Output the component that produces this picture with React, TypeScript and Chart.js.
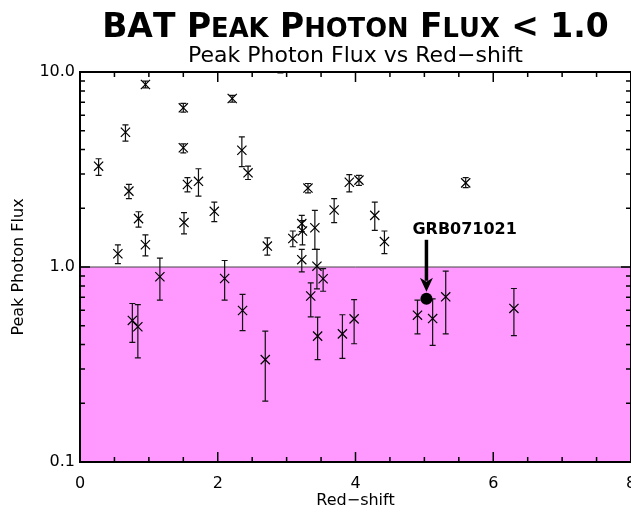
import React, { useEffect, useRef } from 'react';
import { Chart, registerables } from 'chart.js';

Chart.register(...registerables);

const FONT = '"DejaVu Sans", sans-serif';

const titleText = 'BAT Peak Photon Flux < 1.0';
const subtitleText = 'Peak Photon Flux vs Red\u2212shift';
const xAxisTitle = 'Red\u2212shift';
const yAxisTitle = 'Peak Photon Flux';

// Burst sample: red-shift, peak photon flux and its error range
const redshift = [0.27, 0.95, 0.66, 0.71, 0.85, 0.55, 0.95, 1.50, 1.50, 1.56, 1.72, 1.51, 1.95, 2.21, 2.35, 2.44, 2.72, 3.31, 3.91, 4.05, 3.69, 4.28, 4.42, 3.09, 3.22, 3.23, 3.41, 3.22, 3.44, 3.53, 3.35, 3.45, 3.81, 3.98, 4.90, 5.12, 5.31, 6.30, 5.60, 1.16, 2.10, 0.76, 0.84, 2.36, 2.69, 2.91];
const peakFlux = [3.29, 8.63, 4.91, 2.45, 1.77, 1.17, 1.30, 6.55, 4.09, 2.65, 2.75, 1.69, 1.93, 7.31, 3.97, 3.04, 1.28, 2.54, 2.72, 2.79, 1.96, 1.84, 1.35, 1.40, 1.67, 1.53, 1.59, 1.09, 1.01, 0.87, 0.71, 0.442, 0.454, 0.542, 0.566, 0.544, 0.703, 0.613, 2.70, 0.891, 0.873, 0.532, 0.494, 0.598, 0.335, 11.0];
const fluxLow = [2.95, 8.30, 4.42, 2.24, 1.60, 1.04, 1.14, 6.22, 3.85, 2.43, 2.31, 1.48, 1.71, 7.00, 3.27, 2.81, 1.15, 2.40, 2.43, 2.62, 1.69, 1.54, 1.17, 1.27, 1.52, 1.30, 1.23, 0.945, 0.773, 0.751, 0.555, 0.335, 0.340, 0.404, 0.454, 0.396, 0.454, 0.445, 2.55, 0.676, 0.676, 0.411, 0.342, 0.472, 0.205, 9.9];
const fluxHigh = [3.59, 8.97, 5.36, 2.65, 1.92, 1.30, 1.46, 6.90, 4.28, 2.87, 3.19, 1.90, 2.15, 7.58, 4.65, 3.29, 1.41, 2.68, 2.98, 2.95, 2.24, 2.15, 1.53, 1.53, 1.84, 1.73, 1.95, 1.23, 1.23, 0.98, 0.83, 0.553, 0.569, 0.681, 0.676, 0.687, 0.952, 0.776, 2.87, 1.11, 1.08, 0.650, 0.642, 0.723, 0.469, 12.5];

// Highlighted burst
const grbName = 'GRB071021';
const grbRedshift = [5.03];
const grbFlux = [0.687];

const thresholdFlux = 1.0;

// Axis ticks
const xMajorTicks = [0, 2, 4, 6, 8];
const xTickLabels = ['0', '2', '4', '6', '8'];
const xMinorTicks = [0.5, 1, 1.5, 2.5, 3, 3.5, 4.5, 5, 5.5, 6.5, 7, 7.5];
const yMajorTicks = [0.1, 1, 10];
const yTickLabels = ['0.1', '1.0', '10.0'];
const yMinorTicks = [0.2, 0.3, 0.4, 0.5, 0.6, 0.7, 0.8, 0.9, 2, 3, 4, 5, 6, 7, 8, 9];

function drawSmallCaps(ctx: CanvasRenderingContext2D, text: string, cx: number, baseline: number, size: number) {
  const parts: { ch: string; size: number; w: number }[] = [];
  for (const ch of text) {
    const lower = ch !== ch.toUpperCase();
    const s = lower ? size * 0.78 : size;
    ctx.font = `bold ${s}px ${FONT}`;
    const c = lower ? ch.toUpperCase() : ch;
    parts.push({ ch: c, size: s, w: ctx.measureText(c).width });
  }
  const total = parts.reduce((a, p) => a + p.w, 0);
  let x = cx - total / 2;
  ctx.textAlign = 'left';
  ctx.textBaseline = 'alphabetic';
  for (const p of parts) {
    ctx.font = `bold ${p.size}px ${FONT}`;
    ctx.fillText(p.ch, x, baseline);
    x += p.w;
  }
}

const chartPlugin = {
  id: 'idlStyle',
  beforeDatasetsDraw(chart: any) {
    const { ctx, chartArea: a, scales } = chart;
    const xs = scales.x;
    const ys = scales.y;
    const yT = ys.getPixelForValue(thresholdFlux);
    ctx.save();
    ctx.fillStyle = '#ff99ff';
    ctx.fillRect(a.left, yT, a.right - a.left, a.bottom - yT);
    ctx.strokeStyle = '#444';
    ctx.lineWidth = 1;
    ctx.beginPath();
    ctx.moveTo(a.left, yT);
    ctx.lineTo(a.right, yT);
    ctx.stroke();

    ctx.beginPath();
    ctx.rect(a.left, a.top, a.right - a.left, a.bottom - a.top);
    ctx.clip();
    ctx.strokeStyle = '#111';
    ctx.lineWidth = 1.2;
    redshift.forEach((z, i) => {
      const px = xs.getPixelForValue(z);
      const lo = ys.getPixelForValue(fluxLow[i]);
      const hi = ys.getPixelForValue(fluxHigh[i]);
      ctx.beginPath();
      ctx.moveTo(px, lo);
      ctx.lineTo(px, hi);
      ctx.moveTo(px - 3, lo);
      ctx.lineTo(px + 3, lo);
      ctx.moveTo(px - 3, hi);
      ctx.lineTo(px + 3, hi);
      ctx.stroke();
    });
    ctx.restore();
  },
  afterDraw(chart: any) {
    const { ctx, chartArea: a, scales } = chart;
    const xs = scales.x;
    const ys = scales.y;
    ctx.save();
    // frame
    ctx.strokeStyle = '#000';
    ctx.lineWidth = 2;
    ctx.strokeRect(a.left, a.top, a.right - a.left, a.bottom - a.top);
    // inward ticks
    ctx.lineWidth = 1.5;
    ctx.beginPath();
    xs.ticks.forEach((t: any) => {
      const px = xs.getPixelForValue(t.value);
      const len = xMajorTicks.includes(t.value) ? 10 : 5;
      ctx.moveTo(px, a.bottom);
      ctx.lineTo(px, a.bottom - len);
      ctx.moveTo(px, a.top);
      ctx.lineTo(px, a.top + len);
    });
    ys.ticks.forEach((t: any) => {
      const py = ys.getPixelForValue(t.value);
      const len = yMajorTicks.includes(t.value) ? 10 : 5;
      ctx.moveTo(a.left, py);
      ctx.lineTo(a.left + len, py);
      ctx.moveTo(a.right, py);
      ctx.lineTo(a.right - len, py);
    });
    ctx.stroke();

    // titles
    const cx = (a.left + a.right) / 2;
    ctx.fillStyle = '#000';
    drawSmallCaps(ctx, titleText, cx, 37, 33);
    ctx.font = `22px ${FONT}`;
    ctx.textAlign = 'center';
    ctx.textBaseline = 'alphabetic';
    ctx.fillText(subtitleText, cx, 62);

    // annotation
    const gx = xs.getPixelForValue(grbRedshift[0]);
    const gy = ys.getPixelForValue(grbFlux[0]);
    ctx.font = `bold 16px ${FONT}`;
    ctx.textAlign = 'left';
    ctx.fillText(grbName, gx - 14, gy - 65);
    ctx.lineWidth = 3.5;
    ctx.beginPath();
    ctx.moveTo(gx, gy - 59);
    ctx.lineTo(gx, gy - 18);
    ctx.stroke();
    ctx.beginPath();
    ctx.moveTo(gx, gy - 7);
    ctx.lineTo(gx - 6.5, gy - 21);
    ctx.lineTo(gx, gy - 17);
    ctx.lineTo(gx + 6.5, gy - 21);
    ctx.closePath();
    ctx.fill();
    ctx.restore();
  },
};

export default function App() {
  const ref = useRef<HTMLCanvasElement | null>(null);
  useEffect(() => {
    if (!ref.current) return;
    const chart = new Chart(ref.current, {
      type: 'scatter',
      data: {
        datasets: [
          {
            label: 'Bursts',
            data: redshift.map((z, i) => ({ x: z, y: peakFlux[i] })),
            pointStyle: 'crossRot',
            pointRadius: 6.5,
            borderColor: '#000',
            backgroundColor: '#000',
            borderWidth: 1.2,
          },
          {
            label: grbName,
            data: grbRedshift.map((z, i) => ({ x: z, y: grbFlux[i] })),
            pointStyle: 'circle',
            pointRadius: 6,
            borderColor: '#000',
            backgroundColor: '#000',
            borderWidth: 0,
          },
        ],
      },
      options: {
        responsive: false,
        devicePixelRatio: 1,
        animation: false,
        layout: { padding: { top: 72, right: 29, left: 0, bottom: 0 } },
        plugins: { legend: { display: false }, tooltip: { enabled: false } },
        scales: {
          x: {
            type: 'linear',
            min: 0,
            max: 8,
            grid: { display: false, drawTicks: false },
            border: { display: false },
            afterBuildTicks: (s: any) => {
              s.ticks = [...xMajorTicks, ...xMinorTicks].sort((p, q) => p - q).map((v) => ({ value: v }));
            },
            afterFit: (s: any) => {
              s.height = 53;
              s.paddingLeft = 0;
              s.paddingRight = 0;
            },
            ticks: {
              autoSkip: false,
              maxRotation: 0,
              padding: 12,
              color: '#000',
              font: { family: FONT, size: 16 },
              callback: (v: any) => {
                const i = xMajorTicks.indexOf(Number(v));
                return i >= 0 ? xTickLabels[i] : '';
              },
            },
            title: {
              display: true,
              text: xAxisTitle,
              color: '#000',
              font: { family: FONT, size: 16 },
              padding: { top: 0, bottom: 5 },
            },
          },
          y: {
            type: 'logarithmic',
            min: 0.1,
            max: 10,
            grid: { display: false, drawTicks: false },
            border: { display: false },
            afterBuildTicks: (s: any) => {
              s.ticks = [...yMajorTicks, ...yMinorTicks].sort((p, q) => p - q).map((v) => ({ value: v }));
            },
            afterFit: (s: any) => {
              s.width = 80;
              s.paddingTop = 0;
              s.paddingBottom = 0;
            },
            ticks: {
              autoSkip: false,
              padding: 5,
              color: '#000',
              font: { family: FONT, size: 16 },
              callback: (v: any) => {
                const i = yMajorTicks.indexOf(Number(v));
                return i >= 0 ? yTickLabels[i] : '';
              },
            },
            title: {
              display: true,
              text: yAxisTitle,
              color: '#000',
              font: { family: FONT, size: 16 },
              padding: { top: 9, bottom: 0 },
            },
          },
        },
      },
      plugins: [chartPlugin],
    });
    return () => chart.destroy();
  }, []);

  return (
    <div style={{ position: 'fixed', left: 0, top: 0, width: 631, height: 515, overflow: 'hidden', background: '#fff' }}>
      <div style={{ width: 660, height: 515 }}>
        <canvas ref={ref} width={660} height={515} style={{ display: 'block', width: 660, height: 515 }} />
      </div>
    </div>
  );
}
